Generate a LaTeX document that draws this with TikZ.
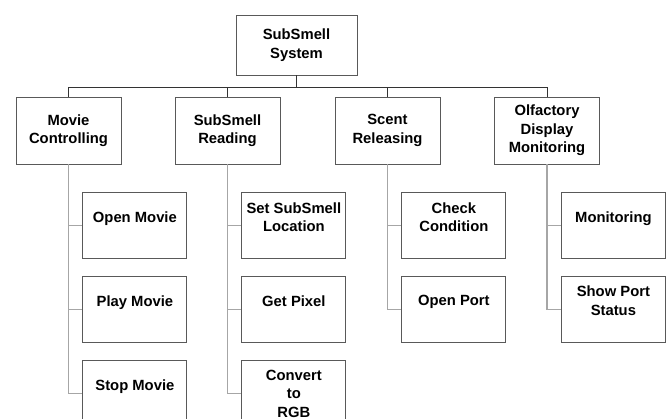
\documentclass[tikz,border=0pt]{standalone}
\usepackage{fontspec}
\setmainfont{Liberation Sans}
\usetikzlibrary{positioning}

\colorlet{boxline}{black!65}
\colorlet{busline}{black!80}
\colorlet{twigline}{black!35}

\begin{document}
\begin{tikzpicture}[x=1pt,y=-1pt,
  every node/.style={draw=boxline,line width=0.9pt,align=center,inner sep=0pt,
    font=\fontsize{14.8}{18.5}\selectfont\bfseries},
  root/.style={minimum width=121pt,minimum height=60pt},
  branch/.style={minimum width=105pt,minimum height=67pt},
  leaf/.style={minimum width=104pt,minimum height=66pt,text depth=18pt},
  bus/.style={draw=busline,line width=0.9pt},
  twig/.style={draw=twigline,line width=1.2pt},
  node distance=17pt]
\useasboundingbox (0,0) rectangle (670,419) ;

\node[root] (top) at (296.5,45) {SubSmell\\System} ;

\node[branch] (mc) at (68.5,130.5) {Movie\\Controlling} ;
\node[branch] (sr) at (227.5,130.5) {SubSmell\\Reading} ;
\node[branch] (sc) at (387.5,130.5) {Scent\\Releasing} ;
\node[branch] (od) at (547,130.5) {Olfactory\\Display\\Monitoring} ;

% task boxes under each module
\node[leaf,below right=28pt and -39pt of mc] (om) {Open Movie} ;
\node[leaf,below=of om] (pm) {Play Movie} ;
\node[leaf,below=of pm] (sm) {Stop Movie} ;

\node[leaf,below right=28pt and -39pt of sr] (sl) {Set SubSmell\\Location} ;
\node[leaf,below=of sl] (gp) {Get Pixel} ;
\node[leaf,below=of gp,text depth=0pt] (rgb) {Convert\\to\\RGB} ;

\node[leaf,below right=28pt and -39pt of sc] (cc) {Check\\Condition} ;
\node[leaf,below=of cc] (op) {Open Port} ;

\node[leaf,below right=28pt and -39pt of od] (mo) {Monitoring} ;
\node[leaf,below=of mo] (ps) {Show Port\\Status} ;

\foreach \n in {mc,sr,sc,od} \draw[bus] (top.south) -- ++(0,12) -| (\n.north) ;
\foreach \p/\c in {mc/om,mc/pm,mc/sm,sr/sl,sr/gp,sr/rgb,sc/cc,sc/op,od/mo,od/ps}
  \draw[twig] (\p.south) |- (\c.west) ;
\end{tikzpicture}
\end{document}
